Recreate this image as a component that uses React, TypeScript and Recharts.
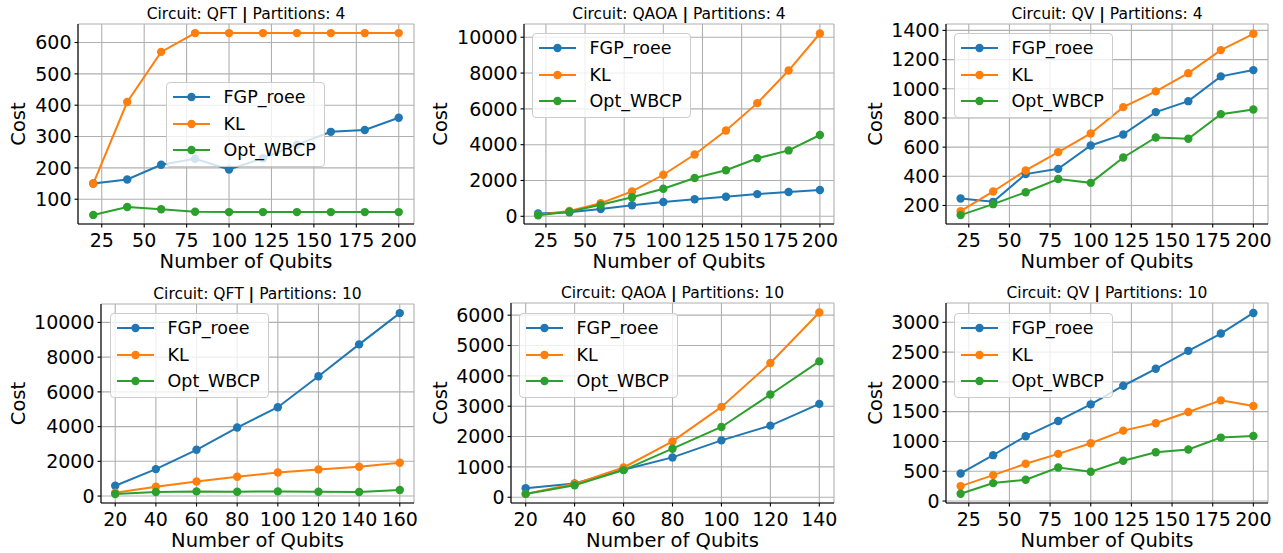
import React from 'react';
import { LineChart, Line, XAxis, YAxis, CartesianGrid, Legend } from 'recharts';

const FONT = 'DejaVu Sans';

// ---- categories (number of qubits) ----
const qubits200 = [20, 40, 60, 80, 100, 120, 140, 160, 180, 200];
const qubits160 = [20, 40, 60, 80, 100, 120, 140, 160];
const qubits140 = [20, 40, 60, 80, 100, 120, 140];

// ---- tick labels ----
const xTicks25 = [25, 50, 75, 100, 125, 150, 175, 200];
const xTicks160 = [20, 40, 60, 80, 100, 120, 140, 160];
const xTicks140 = [20, 40, 60, 80, 100, 120, 140];
const yTicksQft4 = [100, 200, 300, 400, 500, 600];
const yTicksQaoa4 = [0, 2000, 4000, 6000, 8000, 10000];
const yTicksQv4 = [200, 400, 600, 800, 1000, 1200, 1400];
const yTicksQft10 = [0, 2000, 4000, 6000, 8000, 10000];
const yTicksQaoa10 = [0, 1000, 2000, 3000, 4000, 5000, 6000];
const yTicksQv10 = [0, 500, 1000, 1500, 2000, 2500, 3000];

// ---- series values ----
// QFT, 4 partitions
const qft4Fgp = [150, 163, 210, 229, 195, 231, 274, 315, 321, 360];
const qft4Kl = [150, 410, 570, 630, 630, 630, 630, 630, 630, 630];
const qft4Opt = [50, 75, 68, 60, 59, 59, 59, 59, 59, 59];
// QAOA, 4 partitions
const qaoa4Fgp = [160, 225, 410, 615, 800, 950, 1090, 1240, 1360, 1470];
const qaoa4Kl = [80, 300, 730, 1390, 2320, 3450, 4790, 6320, 8140, 10210];
const qaoa4Opt = [60, 260, 640, 1060, 1540, 2140, 2570, 3240, 3680, 4540];
// QV, 4 partitions
const qv4Fgp = [248, 225, 415, 451, 611, 687, 840, 915, 1085, 1128];
const qv4Kl = [161, 296, 440, 566, 694, 874, 982, 1107, 1265, 1377];
const qv4Opt = [134, 209, 291, 381, 355, 529, 666, 657, 826, 858];
// QFT, 10 partitions
const qft10Fgp = [594, 1552, 2663, 3946, 5115, 6897, 8736, 10536];
const qft10Kl = [192, 536, 843, 1111, 1360, 1533, 1686, 1916];
const qft10Opt = [115, 230, 268, 249, 268, 249, 230, 345];
// QAOA, 10 partitions
const qaoa10Fgp = [298, 452, 904, 1312, 1874, 2359, 3076];
const qaoa10Kl = [110, 441, 981, 1841, 2977, 4421, 6086];
const qaoa10Opt = [110, 397, 893, 1599, 2315, 3385, 4476];
// QV, 10 partitions
const qv10Fgp = [463, 770, 1088, 1344, 1623, 1935, 2220, 2521, 2811, 3157];
const qv10Kl = [251, 435, 625, 792, 970, 1182, 1305, 1495, 1690, 1595];
const qv10Opt = [123, 301, 357, 563, 491, 675, 820, 864, 1065, 1093];

const seriesNames = ['FGP_roee', 'KL', 'Opt_WBCP'];
const colors = ['#1f77b4', '#ff7f0e', '#2ca02c'];

function buildRows(xs: number[], a: number[], b: number[], c: number[]) {
  return xs.map((x, i) => ({ x, FGP_roee: a[i], KL: b[i], Opt_WBCP: c[i] }));
}

type Panel = {
  circuit: string;
  parts: number;
  rows: any[];
  xTicks: number[];
  xDomain: [number, number];
  yTicks: number[];
  yDomain: [number, number];
  left: number;
  top: number;
  yw: number;
  width: number;
  height: number;
  mt: number;
  xh: number;
  costX: number;
  lx: number;
  ly: number;
};

const panels: Panel[] = [
  {
    circuit: 'QFT', parts: 4, rows: buildRows(qubits200, qft4Fgp, qft4Kl, qft4Opt),
    xTicks: xTicks25, xDomain: [11, 209], yTicks: yTicksQft4, yDomain: [21, 659],
    left: 0, top: 0, yw: 78, width: 429, height: 276, mt: 24, xh: 52, costX: 25, lx: 166, ly: 82,
  },
  {
    circuit: 'QAOA', parts: 4, rows: buildRows(qubits200, qaoa4Fgp, qaoa4Kl, qaoa4Opt),
    xTicks: xTicks25, xDomain: [11, 209], yTicks: yTicksQaoa4, yDomain: [-430, 10740],
    left: 420, top: 0, yw: 104, width: 429, height: 276, mt: 24, xh: 52, costX: 26.7, lx: 112, ly: 33,
  },
  {
    circuit: 'QV', parts: 4, rows: buildRows(qubits200, qv4Fgp, qv4Kl, qv4Opt),
    xTicks: xTicks25, xDomain: [11, 209], yTicks: yTicksQv4, yDomain: [73, 1444],
    left: 850, top: 0, yw: 96, width: 433, height: 276, mt: 24, xh: 52, costX: 31.7, lx: 104, ly: 33,
  },
  {
    circuit: 'QFT', parts: 10, rows: buildRows(qubits160, qft10Fgp, qft10Kl, qft10Opt),
    xTicks: xTicks160, xDomain: [13, 167], yTicks: yTicksQft10, yDomain: [-400, 11060],
    left: 0, top: 280, yw: 101, width: 429, height: 273, mt: 24, xh: 50, costX: 25, lx: 110, ly: 33,
  },
  {
    circuit: 'QAOA', parts: 10, rows: buildRows(qubits140, qaoa10Fgp, qaoa10Kl, qaoa10Opt),
    xTicks: xTicks140, xDomain: [14, 146], yTicks: yTicksQaoa10, yDomain: [-190, 6400],
    left: 420, top: 280, yw: 91, width: 429, height: 273, mt: 23, xh: 50, costX: 26.7, lx: 99, ly: 33,
  },
  {
    circuit: 'QV', parts: 10, rows: buildRows(qubits200, qv10Fgp, qv10Kl, qv10Opt),
    xTicks: xTicks25, xDomain: [11, 209], yTicks: yTicksQv10, yDomain: [-33, 3324],
    left: 850, top: 280, yw: 96, width: 433, height: 273, mt: 23, xh: 50, costX: 31.7, lx: 104, ly: 33,
  },
];

const rowCenters = [14, 40.5, 67];

const LegendBox = () => (
  <div
    style={{
      width: 159,
      height: 85,
      boxSizing: 'border-box',
      background: 'rgba(255,255,255,0.8)',
      border: '1px solid #cccccc',
      borderRadius: 4,
      position: 'relative',
      fontFamily: FONT,
    }}
  >
    {seriesNames.map((n, i) => (
      <div
        key={n}
        style={{
          position: 'absolute',
          left: 0,
          top: rowCenters[i] - 13,
          height: 26,
          display: 'flex',
          alignItems: 'center',
        }}
      >
        <svg width={37} height={12} style={{ marginLeft: 6, display: 'block' }}>
          <line x1={0} y1={6} x2={37} y2={6} stroke={colors[i]} strokeWidth={2} />
          <circle cx={18.5} cy={6} r={4.2} fill={colors[i]} />
        </svg>
        <span style={{ marginLeft: 13.5, fontSize: 17.5, lineHeight: '26px', color: '#000', whiteSpace: 'nowrap' }}>
          {n}
        </span>
      </div>
    ))}
  </div>
);

const tickStyle = { fontSize: 19, fill: '#000', fontFamily: FONT };

function PanelChart({ p }: { p: Panel }) {
  const plotCenter = p.yw + (p.width - 15 - p.yw) / 2;
  return (
    <div style={{ position: 'absolute', left: p.left, top: p.top, width: p.width, height: p.height }}>
      <svg
        width={p.width}
        height={p.mt}
        style={{ position: 'absolute', left: 0, top: 0, display: 'block', zIndex: 2 }}
      >
        <text
          x={plotCenter}
          y={p.mt - 4.7}
          textAnchor="middle"
          fontSize={15.5}
          fontFamily={FONT}
          fill="#000"
        >
          {`Circuit: ${p.circuit} `}
          <tspan fontWeight="bold">|</tspan>
          {` Partitions: ${p.parts}`}
        </text>
      </svg>
      <LineChart
        width={p.width}
        height={p.height}
        data={p.rows}
        margin={{ top: p.mt, right: 15, bottom: 0, left: 0 }}
      >
        <CartesianGrid stroke="#b0b0b0" strokeWidth={1.1} />
        <XAxis
          dataKey="x"
          type="number"
          domain={p.xDomain}
          ticks={p.xTicks}
          interval={0}
          allowDataOverflow
          height={p.xh}
          tick={tickStyle}
          tickSize={3.5}
          tickMargin={5.8}
          tickLine={{ stroke: '#000', strokeWidth: 1.1 }}
          axisLine={{ stroke: '#000', strokeWidth: 1.1 }}
          label={{
            content: (props: any) => {
              const vb = props.viewBox || {};
              return (
                <text
                  x={vb.x + vb.width / 2}
                  y={vb.y + 43.5}
                  textAnchor="middle"
                  fontSize={19.5}
                  fontFamily={FONT}
                  fill="#000"
                >
                  Number of Qubits
                </text>
              );
            },
          }}
        />
        <XAxis
          xAxisId="top"
          orientation="top"
          type="number"
          domain={[0, 1]}
          height={0}
          tick={false}
          tickLine={false}
          axisLine={{ stroke: '#000', strokeWidth: 1.1 }}
        />
        <YAxis
          type="number"
          domain={p.yDomain}
          ticks={p.yTicks}
          interval={0}
          allowDataOverflow
          width={p.yw}
          tick={tickStyle}
          tickSize={3.5}
          tickMargin={3}
          tickLine={{ stroke: '#000', strokeWidth: 1.1 }}
          axisLine={{ stroke: '#000', strokeWidth: 1.1 }}
          label={{
            content: (props: any) => {
              const vb = props.viewBox || {};
              const x = vb.x + p.costX;
              const y = vb.y + vb.height / 2;
              return (
                <text
                  x={x}
                  y={y}
                  transform={`rotate(-90, ${x}, ${y})`}
                  textAnchor="middle"
                  fontSize={19.5}
                  fontFamily={FONT}
                  fill="#000"
                >
                  Cost
                </text>
              );
            },
          }}
        />
        <YAxis
          yAxisId="right"
          orientation="right"
          type="number"
          domain={[0, 1]}
          width={0}
          tick={false}
          tickLine={false}
          axisLine={{ stroke: '#000', strokeWidth: 1.1 }}
        />
        {seriesNames.map((n, i) => (
          <Line
            key={n}
            type="linear"
            dataKey={n}
            name={n}
            stroke={colors[i]}
            strokeWidth={2}
            dot={{ r: 4.2, fill: colors[i], stroke: 'none' }}
            activeDot={false}
            isAnimationActive={false}
          />
        ))}
        <Legend
          layout="vertical"
          align="center"
          verticalAlign="middle"
          content={() => <LegendBox />}
          wrapperStyle={{ left: p.lx, top: p.ly, right: 'auto', bottom: 'auto', width: 159, height: 85, margin: 0 }}
        />
      </LineChart>
    </div>
  );
}

export default function App() {
  return (
    <div
      style={{
        position: 'absolute',
        left: 0,
        top: 0,
        width: 1283,
        height: 553,
        background: '#ffffff',
        fontFamily: FONT,
      }}
    >
      {panels.map((p, i) => (
        <PanelChart key={i} p={p} />
      ))}
    </div>
  );
}
